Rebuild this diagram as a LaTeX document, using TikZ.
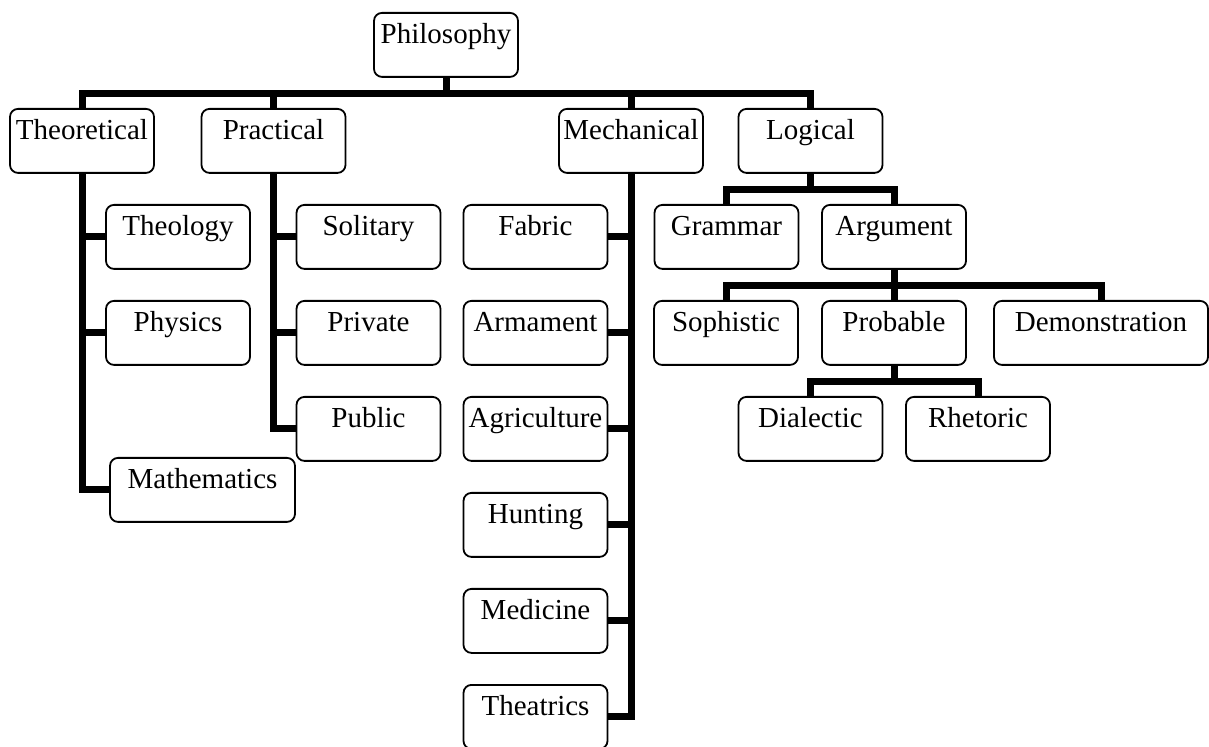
\documentclass[tikz,border=0pt]{standalone}
\usepackage{fontspec}
\setmainfont{Liberation Serif}
\begin{document}
\begin{tikzpicture}[x=0.5pt,y=-0.5pt,
  box/.style={draw, fill=white, rounded corners=4pt, line width=0.9pt, inner sep=0pt,
    minimum width=72pt, minimum height=32pt, text height=15.5pt, text depth=16.5pt,
    anchor=north, font=\fontsize{14.5}{17}\selectfont},
  wide/.style={minimum width=#1},
  conn/.style={line width=3.5pt, line join=miter}]
\useasboundingbox (0,0) rectangle (1209,747);
% level 0/1
\node[box] (phil) at (446,12) {Philosophy};
\node[box] (theo) at (82,108) {Theoretical};
\node[box] (prac) at (273.5,108) {Practical};
\node[box] (mech) at (631,108) {Mechanical};
\node[box] (logi) at (810.5,108) {Logical};
% theoretical
\node[box] (theol) at (178,204) {Theology};
\node[box] (phys) at (178,300) {Physics};
\node[box, wide=92.5pt] (math) at (202.5,457) {Mathematics};
% practical
\node[box] (soli) at (368.5,204) {Solitary};
\node[box] (priv) at (368.5,300) {Private};
\node[box] (publ) at (368.5,396) {Public};
% mechanical
\node[box] (fabr) at (535.5,204) {Fabric};
\node[box] (arma) at (535.5,300) {Armament};
\node[box] (agri) at (535.5,396) {Agriculture};
\node[box] (hunt) at (535.5,492) {Hunting};
\node[box] (medi) at (535.5,588) {Medicine};
\node[box] (thea) at (535.5,684) {Theatrics};
% logical
\node[box] (gram) at (726.5,204) {Grammar};
\node[box] (argu) at (894,204) {Argument};
\node[box] (soph) at (726,300) {Sophistic};
\node[box] (prob) at (894,300) {Probable};
\node[box, wide=107pt] (demo) at (1101,300) {Demonstration};
\node[box] (dial) at (810.5,396) {Dialectic};
\node[box] (rhet) at (978,396) {Rhetoric};
% connectors
\foreach \c in {theo,prac,mech,logi}
  \draw[conn] (phil.south) -- ++(0,16) -| (\c.north);
\foreach \c in {theol,phys,math}
  \draw[conn] (theo.south) |- (\c.west);
\foreach \c in {soli,priv,publ}
  \draw[conn] (prac.south) |- (\c.west);
\foreach \c in {fabr,arma,agri,hunt,medi,thea}
  \draw[conn] (mech.south) |- (\c.east);
\foreach \c in {gram,argu}
  \draw[conn] (logi.south) -- ++(0,16) -| (\c.north);
\foreach \c in {soph,prob,demo}
  \draw[conn] (argu.south) -- ++(0,16) -| (\c.north);
\foreach \c in {dial,rhet}
  \draw[conn] (prob.south) -- ++(0,16) -| (\c.north);
\end{tikzpicture}
\end{document}
